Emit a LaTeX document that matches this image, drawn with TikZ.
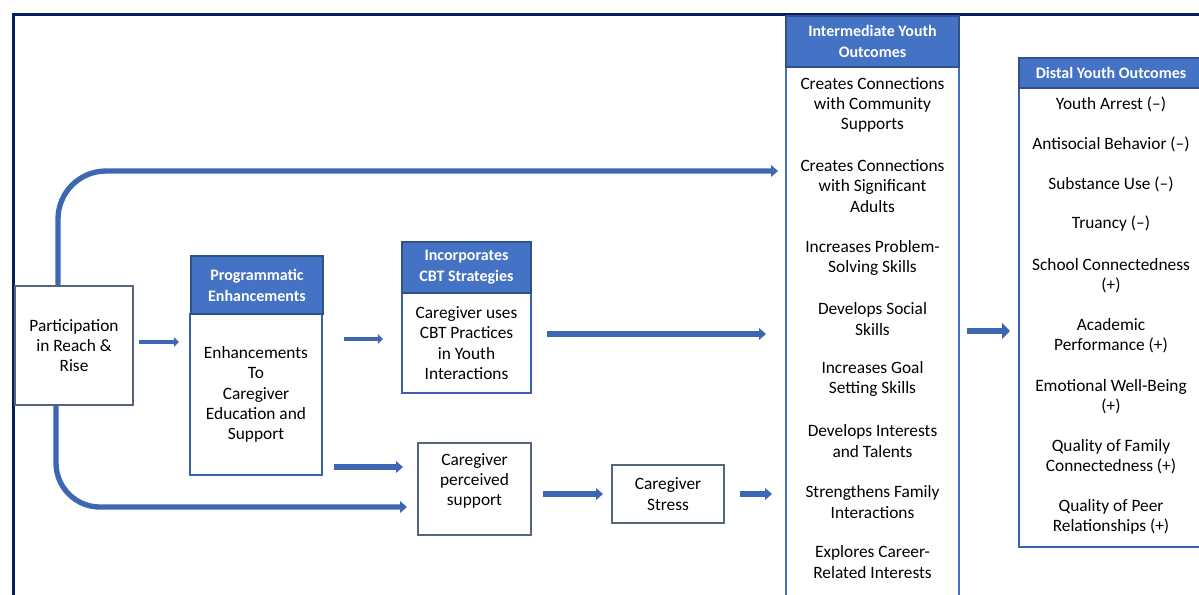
\documentclass[tikz,border=0pt]{standalone}
\usepackage{fontspec}
\setmainfont{Carlito}
\usetikzlibrary{arrows.meta,calc}
\definecolor{navy}{HTML}{002060}
\definecolor{hdrfill}{HTML}{4472C4}
\definecolor{hdrline}{HTML}{2F528F}
\definecolor{slate}{HTML}{56657F}
\definecolor{boxblue}{HTML}{3A62AC}
\definecolor{colblue}{HTML}{4472C4}
\definecolor{arrowblue}{HTML}{3D67B3}
\newcommand{\bodyfont}{\fontsize{13}{15.2}\selectfont}
\newcommand{\hdrfont}{\fontsize{12}{15.75}\selectfont\bfseries}
\tikzset{
  plainbox/.style={draw=slate, line width=1.5pt, fill=white, align=center,
    font=\bodyfont, inner sep=2pt},
  bluebox/.style={draw=boxblue, line width=1.5pt, fill=white, align=center,
    font=\bodyfont, inner sep=2pt},
  colbox/.style={draw=colblue, line width=1.5pt, fill=white, inner sep=0pt},
  hdrbox/.style={fill=hdrfill, draw=hdrline, line width=1pt, text=white,
    font=\hdrfont, align=center, inner sep=2pt},
  item/.style={align=center, font=\bodyfont, inner sep=1pt},
  thinarr/.style={draw=arrowblue, line width=3.3pt,
    -{Triangle[length=3.8pt, width=7pt]}},
  medarr/.style={draw=arrowblue, line width=4pt,
    -{Triangle[length=5.2pt, width=8.6pt]}},
  bigarr/.style={draw=arrowblue, line width=5.2pt,
    -{Triangle[length=6pt, width=12pt]}},
}
\begin{document}
\begin{tikzpicture}[x=0.75pt, y=-0.75pt]
\useasboundingbox (0,0) rectangle (1199,594);

% outer frame (continues beyond the page on the right and bottom)
\draw[navy, line width=2.5pt, line join=miter] (13.7,610) -- (13.7,14.3) -- (1215,14.3);

% programme boxes
\node[plainbox, minimum width=88.5pt, minimum height=89.25pt] (part) at (74,345.5)
  {Participation\\in Reach \&\\Rise};

\node[bluebox, minimum width=99pt, minimum height=120.75pt] (prog) at (256,394.5)
  {Enhancements\\To\\Caregiver\\Education and\\Support};
\node[hdrbox, minimum width=99pt, minimum height=43.5pt] (proghdr) at (257,285)
  {Programmatic\\Enhancements};

\node[bluebox, minimum width=96.75pt, minimum height=75pt] (cbt) at (466.5,343)
  {Caregiver uses\\CBT Practices\\in Youth\\Interactions};
\node[hdrbox, minimum width=96.75pt, minimum height=38.25pt] (cbthdr) at (466.5,267.5)
  {Incorporates\\CBT Strategies};

% the support box has its text set a little above centre
\node[plainbox, minimum width=84.75pt, minimum height=69pt] (perc) at (474.5,489) {};
\node[item] (perctext) at ([yshift=6pt]perc.center)
  {Caregiver\\perceived\\support};
\node[plainbox, minimum width=84pt, minimum height=43.5pt] (stress) at (668,494)
  {Caregiver\\Stress};

% intermediate outcomes column
\node[colbox, minimum width=129.75pt, minimum height=414.75pt] (ibody) at (872.5,343.5) {};
\node[hdrbox, minimum width=129.75pt, minimum height=38.25pt] (ihdr) at (872.5,41.5)
  {Intermediate Youth\\Outcomes};
\foreach \yy/\tx [count=\k] in {
  105/{Creates Connections\\with Community\\Supports},
  186/{Creates Connections\\with Significant\\Adults},
  258/{Increases Problem-\\Solving Skills},
  319/{Develops Social\\Skills},
  379/{Increases Goal\\Setting Skills},
  441/{Develops Interests\\and Talents},
  502/{Strengthens Family\\Interactions},
  562/{Explores Career-\\Related Interests}}
  \node[item] (im\k) at (872.5,\yy) {\tx};

% distal outcomes column
\node[colbox, draw=boxblue, minimum width=138pt, minimum height=344.25pt] (dbody) at (1111,317.5) {};
\node[hdrbox, minimum width=138pt, minimum height=22.5pt] (dhdr) at (1111,73)
  {Distal Youth Outcomes};
\foreach \yy/\tx [count=\k] in {
  104/{Youth Arrest (–)},
  144/{Antisocial Behavior (–)},
  184/{Substance Use (–)},
  224/{Truancy (–)},
  276/{School Connectedness\\(+)},
  336/{Academic\\Performance (+)},
  397/{Emotional Well-Being\\(+)},
  457/{Quality of Family\\Connectedness (+)},
  517/{Quality of Peer\\Relationships (+)}}
  \node[item] (dm\k) at (1111,\yy) {\tx};

% reference points for the connectors
\coordinate (a1) at ([yshift=2.6pt]part.east);
\coordinate (a2) at ([yshift=3pt]cbt.west);
\coordinate (a3) at ([yshift=6.75pt]prog.south east);
\coordinate (a4) at ([yshift=-13.5pt]perc.west);
\coordinate (row) at (0,171);
\coordinate (a6) at ([yshift=6.75pt]cbt.east);
\coordinate (a9) at ([yshift=-10.1pt]dbody.west);

% connectors
\draw[thinarr, shorten <=3.75pt, shorten >=7.5pt] (a1) -- (prog.west |- a1);
\draw[thinarr, shorten <=15.75pt, shorten >=13.5pt] (prog.east |- a2) -- (a2);
\draw[medarr, shorten <=8.25pt, shorten >=10.5pt] (a3) -- (perc.west |- a3);
\draw[medarr, rounded corners=33pt, shorten >=7.5pt]
  ([xshift=-13.5pt]part.south) |- (a4);
\draw[medarr, rounded corners=36pt, shorten >=5.25pt]
  ([xshift=-12pt]part.north) |- (ibody.west |- row);
\draw[medarr, shorten <=11.25pt, shorten >=14.25pt] (a6) -- (ibody.west |- a6);
\draw[medarr, shorten <=8.25pt, shorten >=6pt] (perc.east |- stress.west) -- (stress.west);
\draw[medarr, shorten <=11.25pt, shorten >=9.75pt] (stress.east) -- (ibody.west |- stress.east);
\draw[bigarr, shorten <=5.25pt, shorten >=6pt] (ibody.east |- a9) -- (a9);
\end{tikzpicture}
\end{document}
